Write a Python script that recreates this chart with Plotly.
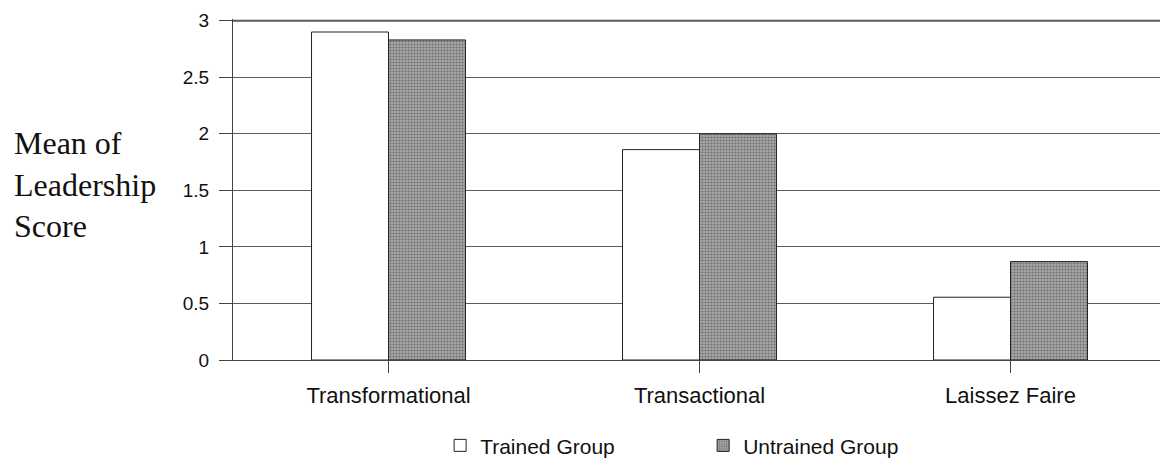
import plotly.graph_objects as go

categories = ["Transformational", "Transactional", "Laissez Faire"]
trained = [2.90, 1.86, 0.555]
untrained = [2.83, 2.00, 0.87]
series_names = ["Trained Group", "Untrained Group"]
y_ticks = [0, 0.5, 1, 1.5, 2, 2.5, 3]
y_ticktext = ["0", "0.5", "1", "1.5", "2", "2.5", "3"]
y_max = y_ticks[-1]

SANS = "Arial, Liberation Sans, sans-serif"
SERIF = "Times New Roman, Liberation Serif, serif"
GRID = "#5a5a5a"

fig = go.Figure()
fig.add_trace(go.Bar(
    x=categories, y=trained, name=series_names[0],
    marker=dict(color="white", line=dict(color="#222222", width=1)),
))
fig.add_trace(go.Bar(
    x=categories, y=untrained, name=series_names[1],
    marker=dict(color="#959595", line=dict(color="#222222", width=1),
                pattern=dict(shape=".", fgcolor="#333333", bgcolor="#a8a8a8",
                             size=3, solidity=0.4)),
))

fig.update_layout(
    width=1160, height=460,
    margin=dict(l=225, r=2, t=8, b=104),
    paper_bgcolor="white", plot_bgcolor="white",
    barmode="group", bargap=0.505, bargroupgap=0,
    showlegend=True,
    legend=dict(orientation="h", x=0.222, xanchor="left", y=-0.2514, yanchor="middle",
                font=dict(family=SANS, size=21, color="#111111"),
                entrywidth=218, entrywidthmode="pixels", traceorder="normal",
                bgcolor="rgba(0,0,0,0)"),
    font=dict(family=SANS, color="#111111"),
)
fig.update_xaxes(
    type="category", showgrid=False, showline=True, linecolor="#444444", linewidth=1,
    ticks="outside", ticklen=12, tickcolor="#444444", ticklabelstandoff=4,
    tickfont=dict(family=SANS, size=22, color="#111111"),
)
fig.update_yaxes(
    range=[0, 3.015], tickvals=y_ticks, ticktext=y_ticktext,
    showgrid=True, gridcolor=GRID, gridwidth=1,
    showline=True, linecolor="#444444", linewidth=1,
    ticks="outside", ticklen=13, tickcolor="#444444", ticklabelstandoff=6,
    ticklabeloverflow="allow",
    tickfont=dict(family=SANS, size=19, color="#111111"),
    zeroline=False,
)
# top gridline at the highest tick (drawn a bit heavier so it survives resampling)
fig.add_shape(type="line", xref="paper", yref="y", x0=0, x1=1, y0=y_max, y1=y_max,
              line=dict(color=GRID, width=2), layer="below")
fig.add_annotation(
    text="Mean of<br>Leadership<br>Score", xref="paper", yref="paper",
    x=-0.2369, y=0.514, xanchor="left", yanchor="middle", align="left",
    showarrow=False, font=dict(family=SERIF, size=32, color="#111111"),
)

fig.write_html("out.html")
